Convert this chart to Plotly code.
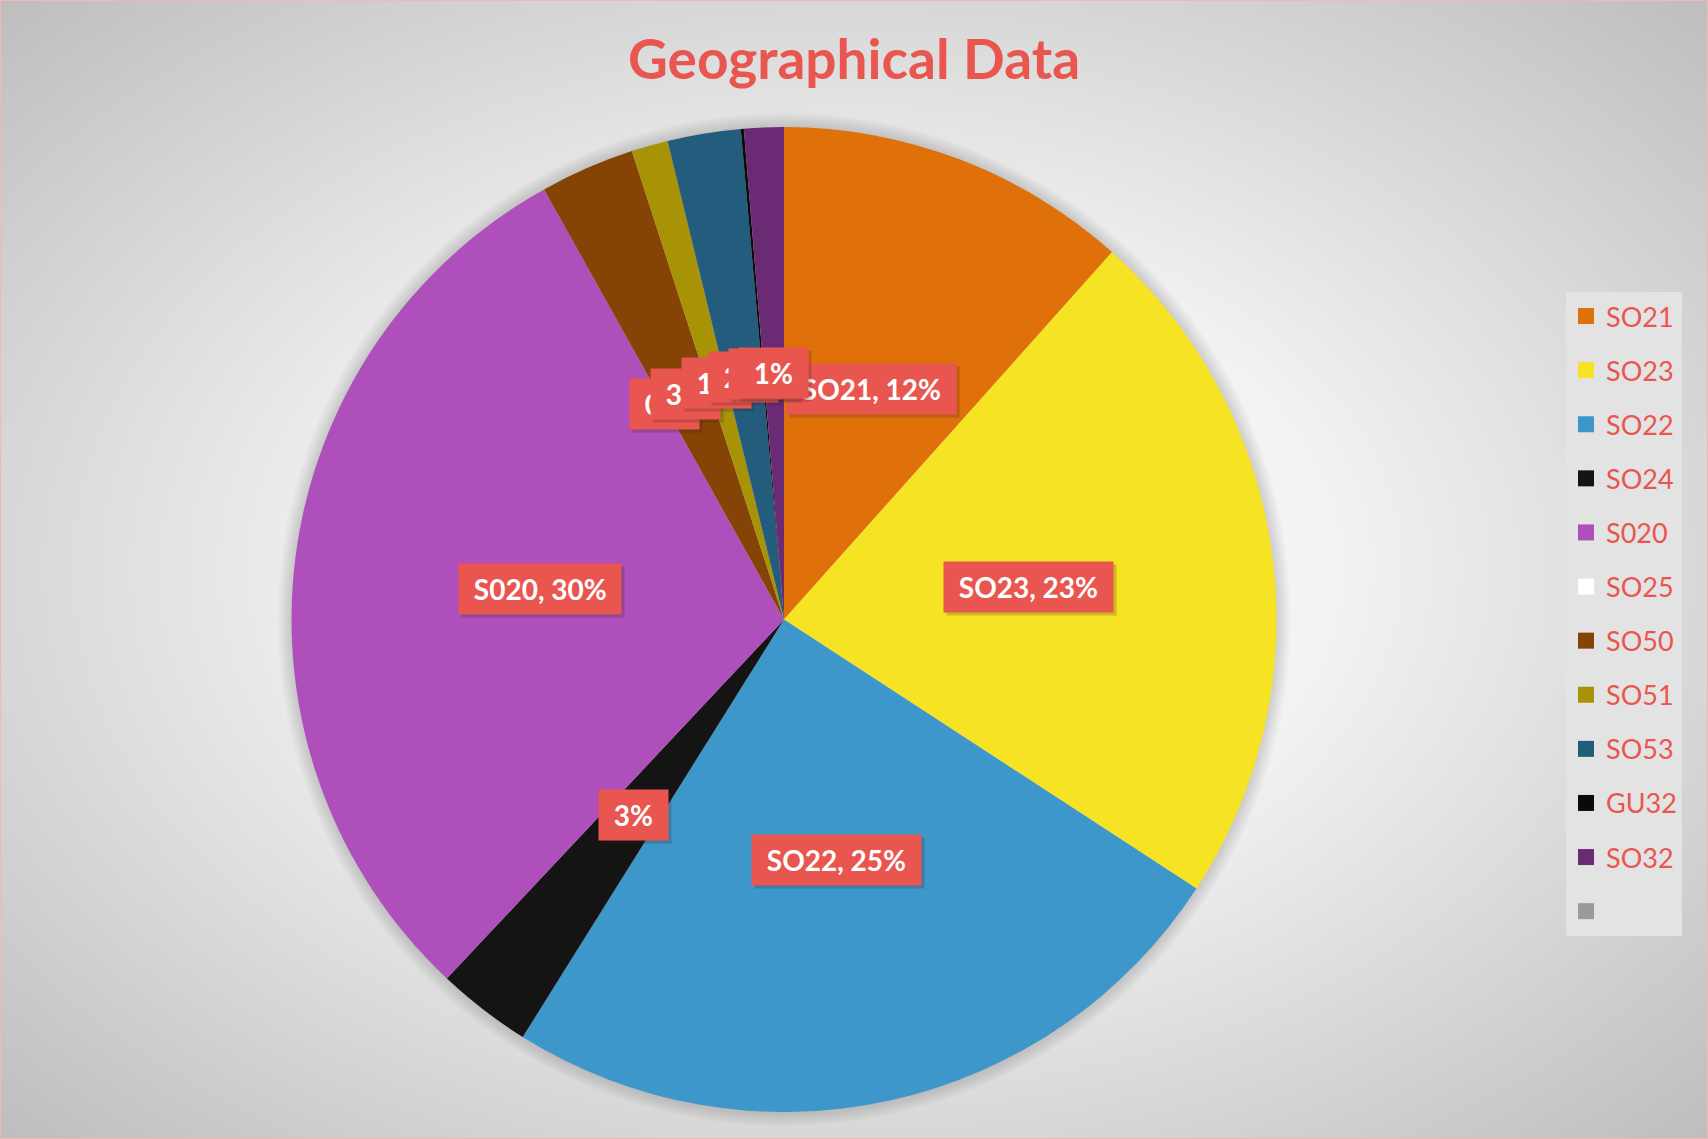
import math
import urllib.parse
import plotly.graph_objects as go

# slices, clockwise from 12 o'clock
labels = ["SO21", "SO23", "SO22", "SO24", "S020", "SO25", "SO50", "SO51", "SO53", "GU32", "SO32", " "]
values = [116, 226, 247, 31, 299, 0, 31, 12, 24, 1, 13, 0]
colors = ["#E07009", "#F6E324", "#3E97CB", "#141414", "#AE4FBC", "#FFFFFF",
          "#854305", "#A79305", "#245C7E", "#0A0A0A", "#6A2A74", "#9A9A9A"]
named = ["SO21", "SO23", "SO22", "S020"]  # data labels that also show the category name

W, H = 1708, 1139
mt, mb, ml, mr = 127, 27, 0, 140
pw, ph = W - ml - mr, H - mt - mb
R = min(pw, ph) / 2
red = "#E9554F"
font = "Lato, 'Open Sans', sans-serif"

fig = go.Figure()
fig.add_trace(go.Pie(labels=labels, values=values, sort=False, direction="clockwise",
                     rotation=0, textinfo="none", showlegend=False,
                     marker=dict(colors=colors, line=dict(width=0))))

# legend proxies, one group each so the gap can be set
for lab, col in zip(labels, colors):
    fig.add_trace(go.Scatter(x=[None], y=[None], mode="markers", name=lab, legendgroup=lab,
                             marker=dict(symbol="square", size=16, color=col, line=dict(width=0))))

# data labels at half radius of each slice
total = sum(values)
cum = 0
ann = []
for lab, v in zip(labels, values):
    mid = (cum + v / 2) / total * 2 * math.pi
    cum += v
    if not lab.strip():
        continue
    pct = round(100 * v / total)
    txt = f"{lab}, {pct}%" if lab in named else f"{pct}%"
    x = 0.5 + 0.5 * (R / pw) * math.sin(mid)
    y = 0.5 + 0.5 * (R / ph) * math.cos(mid)
    for shadow in (True, False):
        ann.append(dict(x=x, y=y, xref="paper", yref="paper", showarrow=False,
                        xanchor="center", yanchor="middle",
                        text="&nbsp;" + txt + "&nbsp;",
                        font=dict(family=font, size=28, color="white" if not shadow else "rgba(0,0,0,0)",
                                  weight="bold"),
                        bgcolor="rgba(60,30,30,0.22)" if shadow else red,
                        borderpad=8, xshift=3 if shadow else 0, yshift=-3 if shadow else 0))

bg_svg = ('<svg xmlns="http://www.w3.org/2000/svg" width="1708" height="1139" viewBox="0 0 1708 1139" '
          'preserveAspectRatio="none"><defs><radialGradient id="g" cx="50%" cy="50%" r="71%">'
          '<stop offset="0" stop-color="#FFFFFF"/><stop offset="0.4" stop-color="#F2F2F2"/>'
          '<stop offset="1" stop-color="#BDBDBD"/></radialGradient></defs>'
          '<rect width="1708" height="1139" fill="url(#g)"/></svg>')
bg_src = "data:image/svg+xml;charset=utf-8," + urllib.parse.quote(bg_svg)

# soft shadow around the pie
shapes = []
for k in range(1, 8):
    rr = R + k * 2
    shapes.append(dict(type="circle", xref="paper", yref="paper", layer="below",
                       x0=0.5 - rr / pw, x1=0.5 + rr / pw, y0=0.5 - rr / ph, y1=0.5 + rr / ph,
                       fillcolor="rgba(0,0,0,0.018)", line=dict(width=0)))
shapes.append(dict(type="rect", xref="paper", yref="paper",
                   x0=-ml / pw, x1=(W - ml) / pw, y0=-mb / ph, y1=(H - mb) / ph,
                   line=dict(color="#F2B8B2", width=2)))

fig.update_layout(
    width=W, height=H,
    margin=dict(t=mt, b=mb, l=ml, r=mr, autoexpand=False),
    paper_bgcolor="#E6E6E6", plot_bgcolor="rgba(0,0,0,0)",
    title=dict(text="Geographical Data", x=0.5, xref="container", y=1 - 60 / H, yref="container",
               xanchor="center", yanchor="middle",
               font=dict(family=font, size=55, color=red, weight="bold")),
    xaxis=dict(visible=False), yaxis=dict(visible=False),
    legend=dict(x=(1566 - ml) / pw, y=(H - mb - 292) / ph, xanchor="left", yanchor="top",
                bgcolor="#E3E3E3", font=dict(family=font, size=27, color=red),
                tracegroupgap=16, itemsizing="trace", traceorder="grouped"),
    annotations=ann, shapes=shapes,
    images=[dict(source=bg_src, xref="paper", yref="paper", x=-ml / pw, y=(H - mb) / ph,
                 sizex=W / pw, sizey=H / ph, sizing="stretch", layer="below",
                 xanchor="left", yanchor="top")],
)

fig.write_html("out.html", config={"displayModeBar": False},
               post_script="document.body.style.margin='0px';")
